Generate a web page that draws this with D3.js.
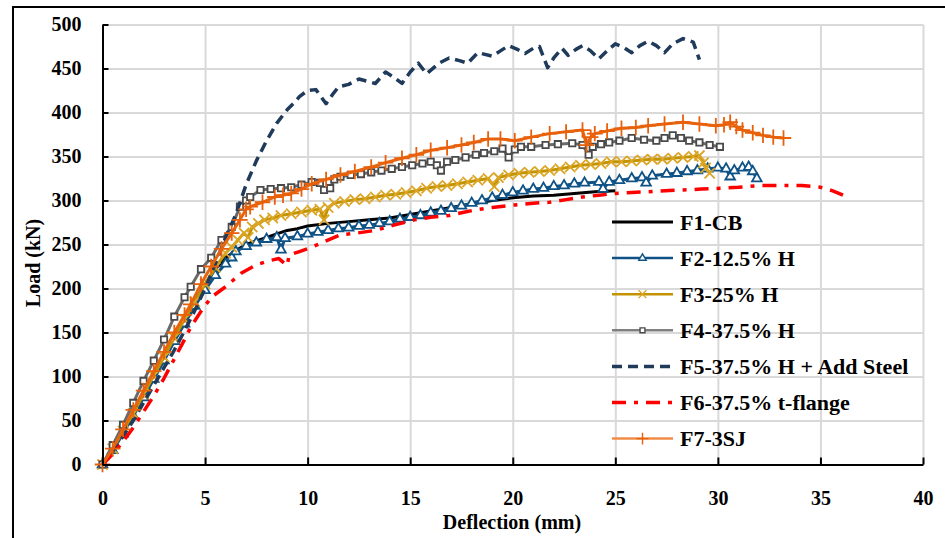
<!DOCTYPE html>
<html>
<head>
<meta charset="utf-8">
<script src="https://d3js.org/d3.v7.min.js"></script>
<style>
  body { margin: 0; background: #fff; }
  text { font-family: "Book Antiqua", "Palatino Linotype", "Liberation Serif", serif; font-weight: bold; }
</style>
</head>
<body>
<div id="chart"></div>
<script>
// values: [deflection (mm), load (kN)]
const f1_cb = [[0,0],[0.5,18],[1,38],[1.5,58],[2,80],[2.5,100],[3,122],[3.5,143],[4,165],[4.5,185],[5,205],[5.5,222],[6,235],[6.5,243],[7,250],[7.5,254],[8,258],[8.5,262],[9,266],[9.5,268],[10,271],[11,274],[12,276],[13,278],[14,280],[15,284],[16,288],[17,292],[18,296],[19,300],[20,303],[21,305],[22,306],[23,308],[24,310],[25,311]];

const f2_h125 = [[0,0],[0.5,16],[1,35],[1.5,55],[2,76],[2.5,97],[3,118],[3.5,140],[4,160],[4.5,180],[5,198],[5.5,215],[6,228],[6.3,235],[6.5,242],[7,248],[7.5,252],[8,256],[8.5,258],[8.7,244],[8.9,257],[9.5,259],[10,262],[10.5,264],[11,266],[11.5,268],[12,269],[12.5,271],[13,272],[13.5,274],[14,276],[14.5,279],[15,281],[15.5,283],[16,286],[16.5,288],[17,291],[17.5,294],[18,297],[18.5,300],[19,303],[19.5,306],[20,309],[20.5,311],[21,313],[21.5,314],[22,316],[22.5,317],[23,319],[23.5,320],[24.2,321],[24.4,313],[24.7,321],[25.2,323],[25.8,325],[26.3,326],[26.5,320],[26.8,328],[27.5,330],[28,331],[28.5,333],[29,334],[29.5,336],[30,337],[30.4,336],[30.6,327],[30.8,334],[31.2,337],[31.5,338],[31.7,333],[31.9,325]];

const f3_h25 = [[0,0],[0.5,18],[1,38],[1.5,58],[2,80],[2.5,101],[3,122],[3.5,144],[4,165],[4.5,185],[5,205],[5.5,224],[6,240],[6.3,247],[6.6,255],[6.9,263],[7.1,258],[7.3,270],[7.6,274],[7.9,278],[8.3,280],[8.7,283],[9.2,285],[9.7,287],[10.2,289],[10.6,290],[10.8,278],[11,292],[11.3,297],[11.8,299],[12.3,301],[12.8,302],[13.3,304],[13.8,306],[14.3,307],[14.8,309],[15.3,311],[15.8,314],[16.3,316],[16.8,317],[17.3,319],[17.8,321],[18.3,323],[18.8,325],[19.1,316],[19.3,326],[19.8,329],[20.3,331],[20.8,332],[21.3,333],[21.8,334],[22.3,336],[22.8,338],[23.3,340],[23.8,341],[24.3,342],[24.8,344],[25.3,344],[25.8,345],[26.3,346],[26.8,347],[27.3,347],[27.8,348],[28.3,349],[28.8,350],[29.1,351],[29.3,343],[29.4,337],[29.6,331]];

const f4_h375 = [[0,0],[0.5,22],[1,45],[1.5,70],[2,95],[2.5,118],[3,142],[3.5,168],[4,190],[4.3,202],[4.8,222],[5.3,235],[5.8,255],[6.3,270],[6.7,293],[7,300],[7.2,304],[7.7,312],[8.2,313],[8.7,314],[9.2,315],[9.7,318],[10.2,321],[10.6,320],[10.8,312],[11.1,314],[11.3,324],[11.6,327],[12.1,329],[12.6,330],[13.1,332],[13.6,334],[14.1,336],[14.6,338],[15.1,340],[15.6,342],[16,344],[16.3,340],[16.5,334],[16.8,344],[17.2,346],[17.7,349],[18.2,352],[18.6,354],[19.1,356],[19.5,359],[19.8,349],[20.1,358],[20.4,361],[20.9,361],[21.6,363],[22.2,364],[22.9,365],[23.4,363],[23.7,352],[23.9,361],[24.3,364],[24.7,366],[25.2,368],[25.8,371],[26.4,369],[27,368],[27.4,371],[27.8,374],[28.2,371],[28.6,368],[29.1,366],[29.6,363],[30.1,361]];

const f5_steel = [[0,0],[0.5,15],[1,32],[1.5,50],[2,70],[2.5,90],[3,110],[3.5,130],[4,152],[4.5,175],[5,200],[5.5,228],[6,258],[6.5,284],[7,318],[7.5,345],[8,368],[8.5,388],[9,403],[9.3,410],[9.6,418],[10,425],[10.4,426],[10.9,410],[11.2,420],[11.5,429],[12,432],[12.5,438],[13.3,433],[13.8,446],[14.2,440],[14.6,433],[15,446],[15.4,456],[15.8,444],[16.4,456],[16.9,462],[17.4,459],[17.8,456],[18.3,468],[19,464],[19.4,470],[19.8,476],[20.2,472],[20.6,467],[21,473],[21.3,475],[21.7,451],[22,462],[22.4,473],[22.7,465],[23.1,472],[23.4,476],[23.8,470],[24.2,461],[24.6,470],[25,478],[25.4,474],[25.8,468],[26.2,476],[26.6,481],[27,476],[27.4,468],[27.8,478],[28.3,484],[28.8,480],[29.1,460]];

const f6_tflange = [[0,0],[0.5,12],[1,26],[1.5,42],[2,60],[2.5,78],[3,98],[3.5,120],[4,142],[4.3,156],[4.8,174],[5.3,190],[6,202],[6.5,212],[6.8,218],[7.5,227],[8.2,232],[8.6,234],[9,226],[9.1,238],[9.6,242],[10.2,247],[10.9,254],[11.6,261],[12.4,263],[13.3,266],[14.2,272],[15.2,278],[16,281],[16.9,283],[17.5,286],[18.1,289],[19,292],[20.1,295],[21,297],[21.8,298],[22.6,301],[23.4,304],[24.2,306],[25,308],[25.8,309],[26.6,310],[27.4,311],[28.3,312],[29.2,313],[30.2,314],[31,315],[32,317],[33,317],[34.1,317],[35,315],[35.6,311],[36.1,306]];

const f7_3sj = [[0,0],[0.5,18],[1,40],[1.5,62],[2,84],[2.5,106],[3,128],[3.5,150],[4,170],[4.3,182],[4.8,205],[5.3,225],[5.8,245],[6.3,263],[6.7,278],[7,290],[7.2,293],[7.8,298],[8.4,304],[8.8,306],[9.2,308],[9.7,313],[10.2,319],[10.9,324],[11.6,329],[12.3,333],[13.1,338],[13.8,343],[14.6,348],[15.3,352],[16,357],[16.8,360],[17.5,363],[18.1,366],[18.8,370],[19.4,370],[20.1,368],[20.9,372],[21.8,376],[22.6,378],[23.4,380],[23.6,363],[23.8,372],[24,376],[24.6,379],[25.3,382],[26,383],[26.6,385],[27.4,387],[28.3,389],[29.1,387],[29.9,385],[30.3,386],[30.6,389],[30.9,384],[31.2,380],[31.7,377],[32.2,374],[32.7,372],[33.2,371]];

const series_names = ["F1-CB", "F2-12.5% H", "F3-25% H", "F4-37.5% H", "F5-37.5% H + Add Steel", "F6-37.5% t-flange", "F7-3SJ"];
const x_ticks = [0, 5, 10, 15, 20, 25, 30, 35, 40];
const y_ticks = [0, 50, 100, 150, 200, 250, 300, 350, 400, 450, 500];

// set the dimensions and margins of the graph
const margin = {top: 24.5, right: 22, bottom: 73.5, left: 102.5},
    width = 945 - margin.left - margin.right,
    height = 538 - margin.top - margin.bottom;

const root = d3.select("#chart")
    .append("svg")
    .attr("width", 945)
    .attr("height", 538);

// outer frame
root.append("rect")
    .attr("x", 13).attr("y", 7)
    .attr("width", 945).attr("height", 545)
    .attr("fill", "none")
    .attr("stroke", "#000")
    .attr("stroke-width", 2);

const svg = root.append("g")
    .attr("transform", `translate(${margin.left},${margin.top})`);

const x = d3.scaleLinear().domain([0, 40]).range([0, width]);
const y = d3.scaleLinear().domain([0, 500]).range([height, 0]);

// gridlines
svg.append("g")
    .attr("transform", `translate(0,${height})`)
    .call(d3.axisBottom(x).tickValues(x_ticks).tickSize(-height).tickFormat(""))
    .call(g => g.select(".domain").remove())
    .call(g => g.selectAll("line").attr("stroke", "#d9d9d9").attr("stroke-width", 2));
svg.append("g")
    .call(d3.axisLeft(y).tickValues(y_ticks).tickSize(-width).tickFormat(""))
    .call(g => g.select(".domain").remove())
    .call(g => g.selectAll("line").attr("stroke", "#d9d9d9").attr("stroke-width", 2));

// series styles
const styles = [
    {data: f1_cb, color: "#000", marker: null, width: 3},
    {data: f2_h125, color: "#0f5386", mcolor: "#0f5386", marker: d3.symbolTriangle, fill: "#fff", size: 40, width: 3},
    {data: f3_h25, color: "#c49400", mcolor: "#dba526", marker: d3.symbolX, fill: "none", size: 70, width: 3},
    {data: f4_h375, color: "#6a6a6a", mcolor: "#4a4a4a", marker: d3.symbolSquare, fill: "#fff", size: 40, width: 3},
    {data: f5_steel, color: "#1f3a5a", marker: null, width: 3.5, dash: "10,6"},
    {data: f6_tflange, color: "#ff0000", marker: null, width: 3.5, dash: "14,8,4,8"},
    {data: f7_3sj, color: "#e8650f", mcolor: "#e8600a", marker: d3.symbolPlus, fill: "none", size: 80, width: 3}
];

const line = d3.line()
    .x(d => x(d[0]))
    .y(d => y(d[1]));

styles.forEach(function(s) {
    svg.append("path")
        .datum(s.data)
        .attr("d", line)
        .attr("fill", "none")
        .attr("stroke", s.color)
        .attr("stroke-width", s.width)
        .attr("stroke-dasharray", s.dash || null)
        .attr("stroke-linejoin", "round");
    if (s.marker) {
        svg.append("g")
            .selectAll("path")
            .data(s.data)
            .join("path")
            .attr("transform", d => `translate(${x(d[0])},${y(d[1])})`)
            .attr("d", d3.symbol().type(s.marker).size(s.size))
            .attr("fill", s.fill)
            .attr("stroke", s.mcolor)
            .attr("stroke-width", 1.8);
    }
});

// axes with inside ticks
svg.append("g")
    .attr("transform", `translate(0,${height})`)
    .call(d3.axisBottom(x).tickValues(x_ticks).tickSizeInner(-7).tickSizeOuter(0).tickPadding(26))
    .call(g => g.select(".domain").attr("stroke-width", 2))
    .call(g => g.selectAll("line").attr("stroke-width", 2))
    .call(g => g.selectAll("text").attr("font-size", 20).attr("fill", "#000").attr("font-family", null));
svg.append("g")
    .call(d3.axisLeft(y).tickValues(y_ticks).tickSizeInner(-6).tickSizeOuter(0).tickPadding(21))
    .call(g => g.select(".domain").attr("stroke-width", 2))
    .call(g => g.selectAll("line").attr("stroke-width", 2))
    .call(g => g.selectAll("text").attr("font-size", 20).attr("fill", "#000").attr("font-family", null));

// axis titles
root.append("text")
    .attr("x", 512).attr("y", 529)
    .attr("text-anchor", "middle")
    .attr("font-size", 20)
    .text("Deflection (mm)");
root.append("text")
    .attr("transform", "translate(40,263) rotate(-90)")
    .attr("text-anchor", "middle")
    .attr("font-size", 20)
    .text("Load (kN)");

// legend
const legend = root.append("g").attr("transform", "translate(612,222)");
series_names.forEach(function(name, i) {
    const s = styles[i];
    const row = legend.append("g").attr("transform", `translate(0,${i * 36.1})`);
    row.append("line")
        .attr("x1", 0).attr("x2", 61)
        .attr("stroke", i === 6 ? "#f08c4a" : (i === 3 ? "#808080" : s.color))
        .attr("stroke-width", s.marker ? 2.5 : s.width)
        .attr("stroke-dasharray", s.dash || null);
    if (s.marker) {
        row.append("path")
            .attr("transform", "translate(30.5,0)")
            .attr("d", d3.symbol().type(s.marker).size(s.size * 0.6))
            .attr("fill", s.fill)
            .attr("stroke", s.mcolor)
            .attr("stroke-width", 1.4);
    }
    row.append("text")
        .attr("x", 68)
        .attr("dy", "0.35em")
        .attr("font-size", 22)
        .text(name);
});
</script>
</body>
</html>
